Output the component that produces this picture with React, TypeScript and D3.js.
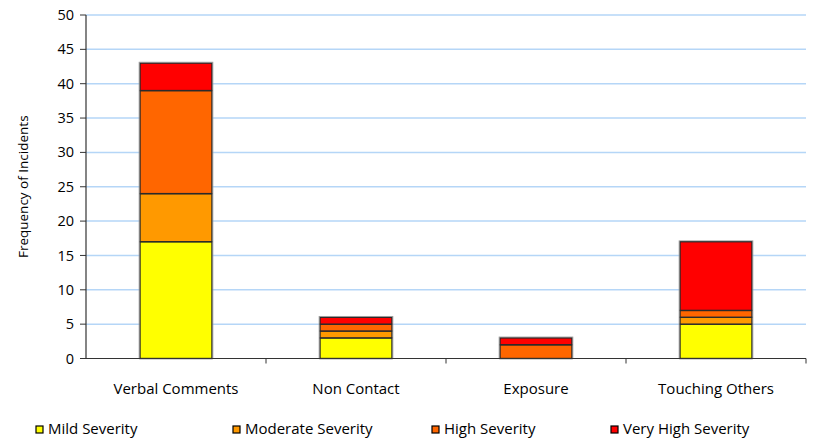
import React from "react";
import * as d3 from "d3";

const categories = ["Verbal Comments", "Non Contact", "Exposure", "Touching Others"];
const seriesNames = ["Mild Severity", "Moderate Severity", "High Severity", "Very High Severity"];
const mild = [17, 3, 0, 5];
const moderate = [7, 1, 0, 1];
const high = [15, 1, 2, 1];
const veryHigh = [4, 1, 1, 10];
const colors = ["#FFFF00", "#FF9900", "#FF6600", "#FF0000"];
const yTicks = [0, 5, 10, 15, 20, 25, 30, 35, 40, 45, 50];

const FONT = "'Open Sans', sans-serif";

export default function App() {
  const W = 817, H = 438;
  const x0 = 86, x1 = 806, yTop = 15, yBot = 358.5;
  const x = d3.scaleBand().domain(categories).range([x0, x1]).paddingInner(0.6).paddingOuter(0.3);
  const xb = d3.scaleBand().domain(categories).range([x0, x1]);
  const y = d3.scaleLinear().domain([0, 50]).range([yBot, yTop]);
  const rows = categories.map((c, i) => ({ cat: c, s0: mild[i], s1: moderate[i], s2: high[i], s3: veryHigh[i] }));
  const stack = d3.stack<any>().keys(["s0", "s1", "s2", "s3"])(rows);
  const legendX = [36, 233, 432, 611];

  return (
    <svg width={W} height={H} style={{ position: "absolute", left: 0, top: 0, background: "#fff" }}>
      {yTicks.map((t) => (
        <g key={t}>
          {t > 0 && <line x1={x0} x2={x1} y1={y(t)} y2={y(t)} stroke="#b5d6f7" strokeWidth={1.5} />}
          <line x1={x0 - 6} x2={x0} y1={y(t)} y2={y(t)} stroke="#333" strokeWidth={1} />
          <text x={74} y={y(t)} dy="0.35em" textAnchor="end" fontFamily={FONT} fontSize={14.5} fill="#000">{t}</text>
        </g>
      ))}
      {stack.map((layer, li) =>
        layer.map((d, i) => {
          const h = y(d[0]) - y(d[1]);
          if (h <= 0) return null;
          return (
            <rect key={li + "-" + i} x={x(categories[i])!} width={x.bandwidth()} y={y(d[1])} height={h}
              fill={colors[li]} stroke="#2a2a2a" strokeWidth={1.4} />
          );
        })
      )}
      {categories.map((c, i) => {
        const top = stack[3][i][1];
        return <rect key={"o" + c} x={x(c)! - 0.9} y={y(top) - 0.9} width={x.bandwidth() + 1.8} height={y(0) - y(top) + 0.9}
          fill="none" stroke="#999" strokeWidth={0.8} />;
      })}
      <line x1={x0} x2={x0} y1={yTop} y2={yBot} stroke="#333" strokeWidth={1.2} />
      <line x1={x0 - 6} x2={x1} y1={yBot} y2={yBot} stroke="#333" strokeWidth={1.2} />
      {categories.map((c) => (
        <line key={"t" + c} x1={xb(c)! + xb.bandwidth()} x2={xb(c)! + xb.bandwidth()} y1={yBot} y2={yBot + 5} stroke="#333" strokeWidth={1} />
      ))}
      {categories.map((c) => (
        <text key={"l" + c} x={xb(c)! + xb.bandwidth() / 2} y={394} textAnchor="middle" fontFamily={FONT} fontSize={15} fill="#000">{c}</text>
      ))}
      <text transform={`translate(28,${(yTop + yBot) / 2}) rotate(-90)`} textAnchor="middle" fontFamily={FONT} fontSize={13.5} fill="#000">Frequency of Incidents</text>
      {seriesNames.map((s, i) => (
        <g key={s}>
          <rect x={legendX[i]} y={426} width={7} height={7} fill={colors[i]} stroke="#000" strokeWidth={1.2} />
          <text x={legendX[i] + 12} y={434} fontFamily={FONT} fontSize={15} fill="#000">{s}</text>
        </g>
      ))}
    </svg>
  );
}
